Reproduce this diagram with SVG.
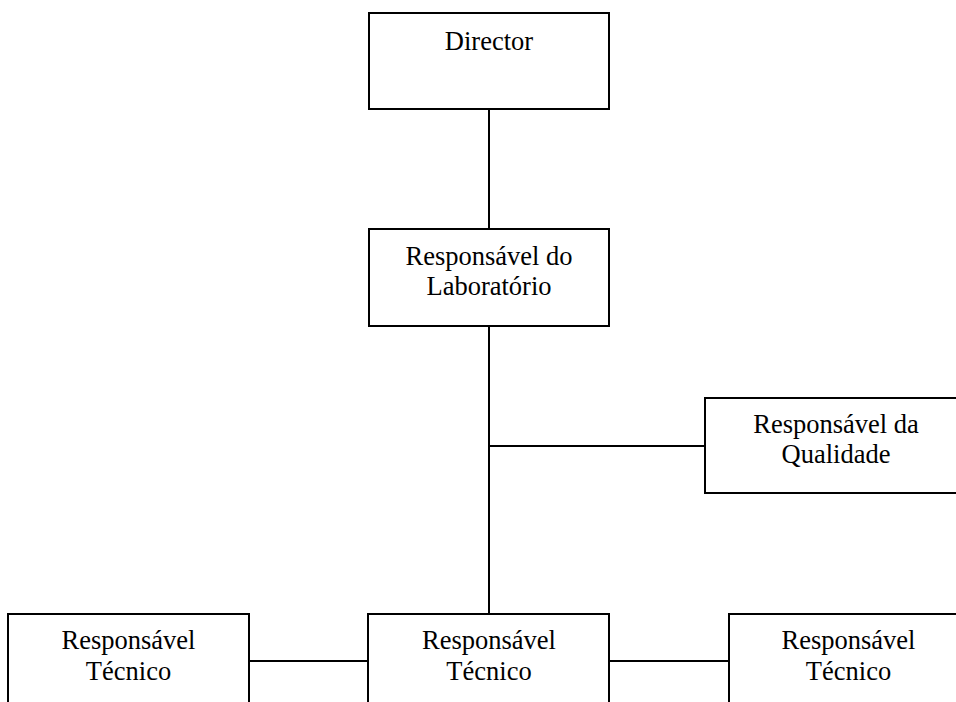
<svg xmlns="http://www.w3.org/2000/svg" width="956" height="702" viewBox="0 0 956 702">
  <style>
    .box { fill: #ffffff; stroke: #000000; stroke-width: 2; }
    .wire { fill: none; stroke: #000000; stroke-width: 2; }
    .label { font-family: "Liberation Serif", "Times New Roman", serif; font-size: 26.5px; fill: #000000; text-anchor: middle; }
  </style>
  <rect width="956" height="702" fill="#ffffff"/>

  <!-- connectors -->
  <g id="connectors">
    <line class="wire" x1="489" y1="109" x2="489" y2="229"/>
    <line class="wire" x1="489" y1="326" x2="489" y2="614"/>
    <line class="wire" x1="489" y1="446" x2="705" y2="446"/>
    <line class="wire" x1="249" y1="661" x2="368" y2="661"/>
    <line class="wire" x1="609" y1="661" x2="729" y2="661"/>
  </g>

  <g id="director">
    <rect class="box" x="369" y="13" width="240" height="96"/>
    <text class="label" x="489" y="50">Director</text>
  </g>

  <g id="responsavel-laboratorio">
    <rect class="box" x="369" y="229" width="240" height="97"/>
    <text class="label" x="489" y="265">Responsável do</text>
    <text class="label" x="489" y="295">Laboratório</text>
  </g>

  <g id="responsavel-qualidade">
    <rect class="box" x="705" y="398" width="263" height="95"/>
    <text class="label" x="836" y="433">Responsável da</text>
    <text class="label" x="836" y="463">Qualidade</text>
  </g>

  <g id="tecnico-esquerda">
    <rect class="box" x="8" y="614" width="241" height="100"/>
    <text class="label" x="128.5" y="649">Responsável</text>
    <text class="label" x="128.5" y="680">Técnico</text>
  </g>

  <g id="tecnico-centro">
    <rect class="box" x="368" y="614" width="241" height="100"/>
    <text class="label" x="489" y="649">Responsável</text>
    <text class="label" x="489" y="680">Técnico</text>
  </g>

  <g id="tecnico-direita">
    <rect class="box" x="729" y="614" width="239" height="100"/>
    <text class="label" x="848.5" y="649">Responsável</text>
    <text class="label" x="848.5" y="680">Técnico</text>
  </g>
</svg>
